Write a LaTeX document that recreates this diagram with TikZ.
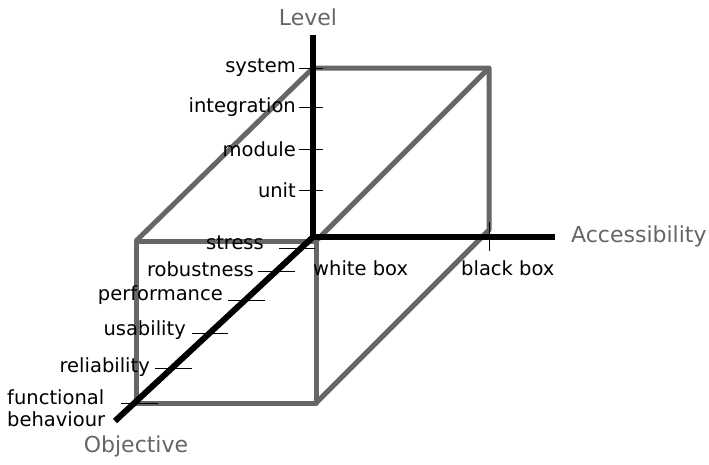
\documentclass[tikz,border=0pt]{standalone}
\usepackage{fontspec}
\setmainfont{DejaVu Sans}
\begin{document}
\begin{tikzpicture}[x=1pt,y=-1pt,
  cube/.style={draw=black!60,line width=5pt,line join=round},
  axis/.style={draw=black,line width=6pt},
  tick/.style={draw=black,line width=0.9pt},
  lbl/.style={font=\fontsize{19.5}{22}\selectfont,inner sep=0pt},
  ttl/.style={font=\fontsize{22}{24}\selectfont,text=black!60,inner sep=0pt}]
\useasboundingbox (0,0) rectangle (709,464);
% cube corners
\coordinate (f1) at (136,241);
\coordinate (f2) at (316,241);
\coordinate (f3) at (316,403);
\coordinate (f4) at (136,403);
\coordinate (b1) at (313,68);
\coordinate (b2) at (489,68);
\coordinate (b3) at (489,230);
\coordinate (b4) at (313,230);
\draw[cube] (f1) -- (f2) -- (f3) -- (f4) -- cycle;
\draw[cube] (f1) -- (b1) -- (b2) -- (b3) -- (f3);
\draw[cube] (f2) -- (b2);
% axes
\coordinate (o) at (313,237);
\coordinate (ltop) at (313,35);
\coordinate (aend) at (555,237);
\coordinate (oend) at (115,421);
\draw[axis] (o) -- (ltop);
\draw[axis] (o) -- (aend);
\draw[axis] (o) -- (oend);
% level ticks
\foreach \y/\t/\n in {68/system/ls,107/integration/li,149/module/lm,190/unit/lu}{
  \coordinate (\n a) at (299,\y);
  \coordinate (\n b) at (323,\y);
  \draw[tick] (\n a) -- (\n b);
  \node[lbl,anchor=east] (\n) at (296,\y) {\t};
}
% accessibility ticks
\coordinate (bta) at (489,222);
\coordinate (btb) at (489,251);
\draw[tick] (bta) -- (btb);
\node[lbl,anchor=west] (wb) at (313,268) {white box};
\node[lbl,anchor=west] (bb) at (461,268) {black box};
% objective ticks
\foreach \y/\xa/\xb/\xl/\yl/\t/\n in {248/279/315/264/243/stress/os,271/258/295/254/269/robustness/or,300/228/265/223/295/performance/op,333/192/228/186/330/usability/ou,368/155/192/150/367/reliability/orl}{
  \coordinate (\n a) at (\xa,\y);
  \coordinate (\n b) at (\xb,\y);
  \draw[tick] (\n a) -- (\n b);
  \node[lbl,anchor=east] (\n) at (\xl,\yl) {\t};
}
\coordinate (ofa) at (121,403);
\coordinate (ofb) at (158,403);
\draw[tick] (ofa) -- (ofb);
\node[lbl,anchor=west,align=left] (of) at (7,408) {functional\\behaviour};
% titles
\node[ttl] (tl) at (308,17) {Level};
\node[ttl,anchor=west] (ta) at (571,236) {Accessibility};
\node[ttl] (to) at (136,446) {Objective};
\end{tikzpicture}
\end{document}
